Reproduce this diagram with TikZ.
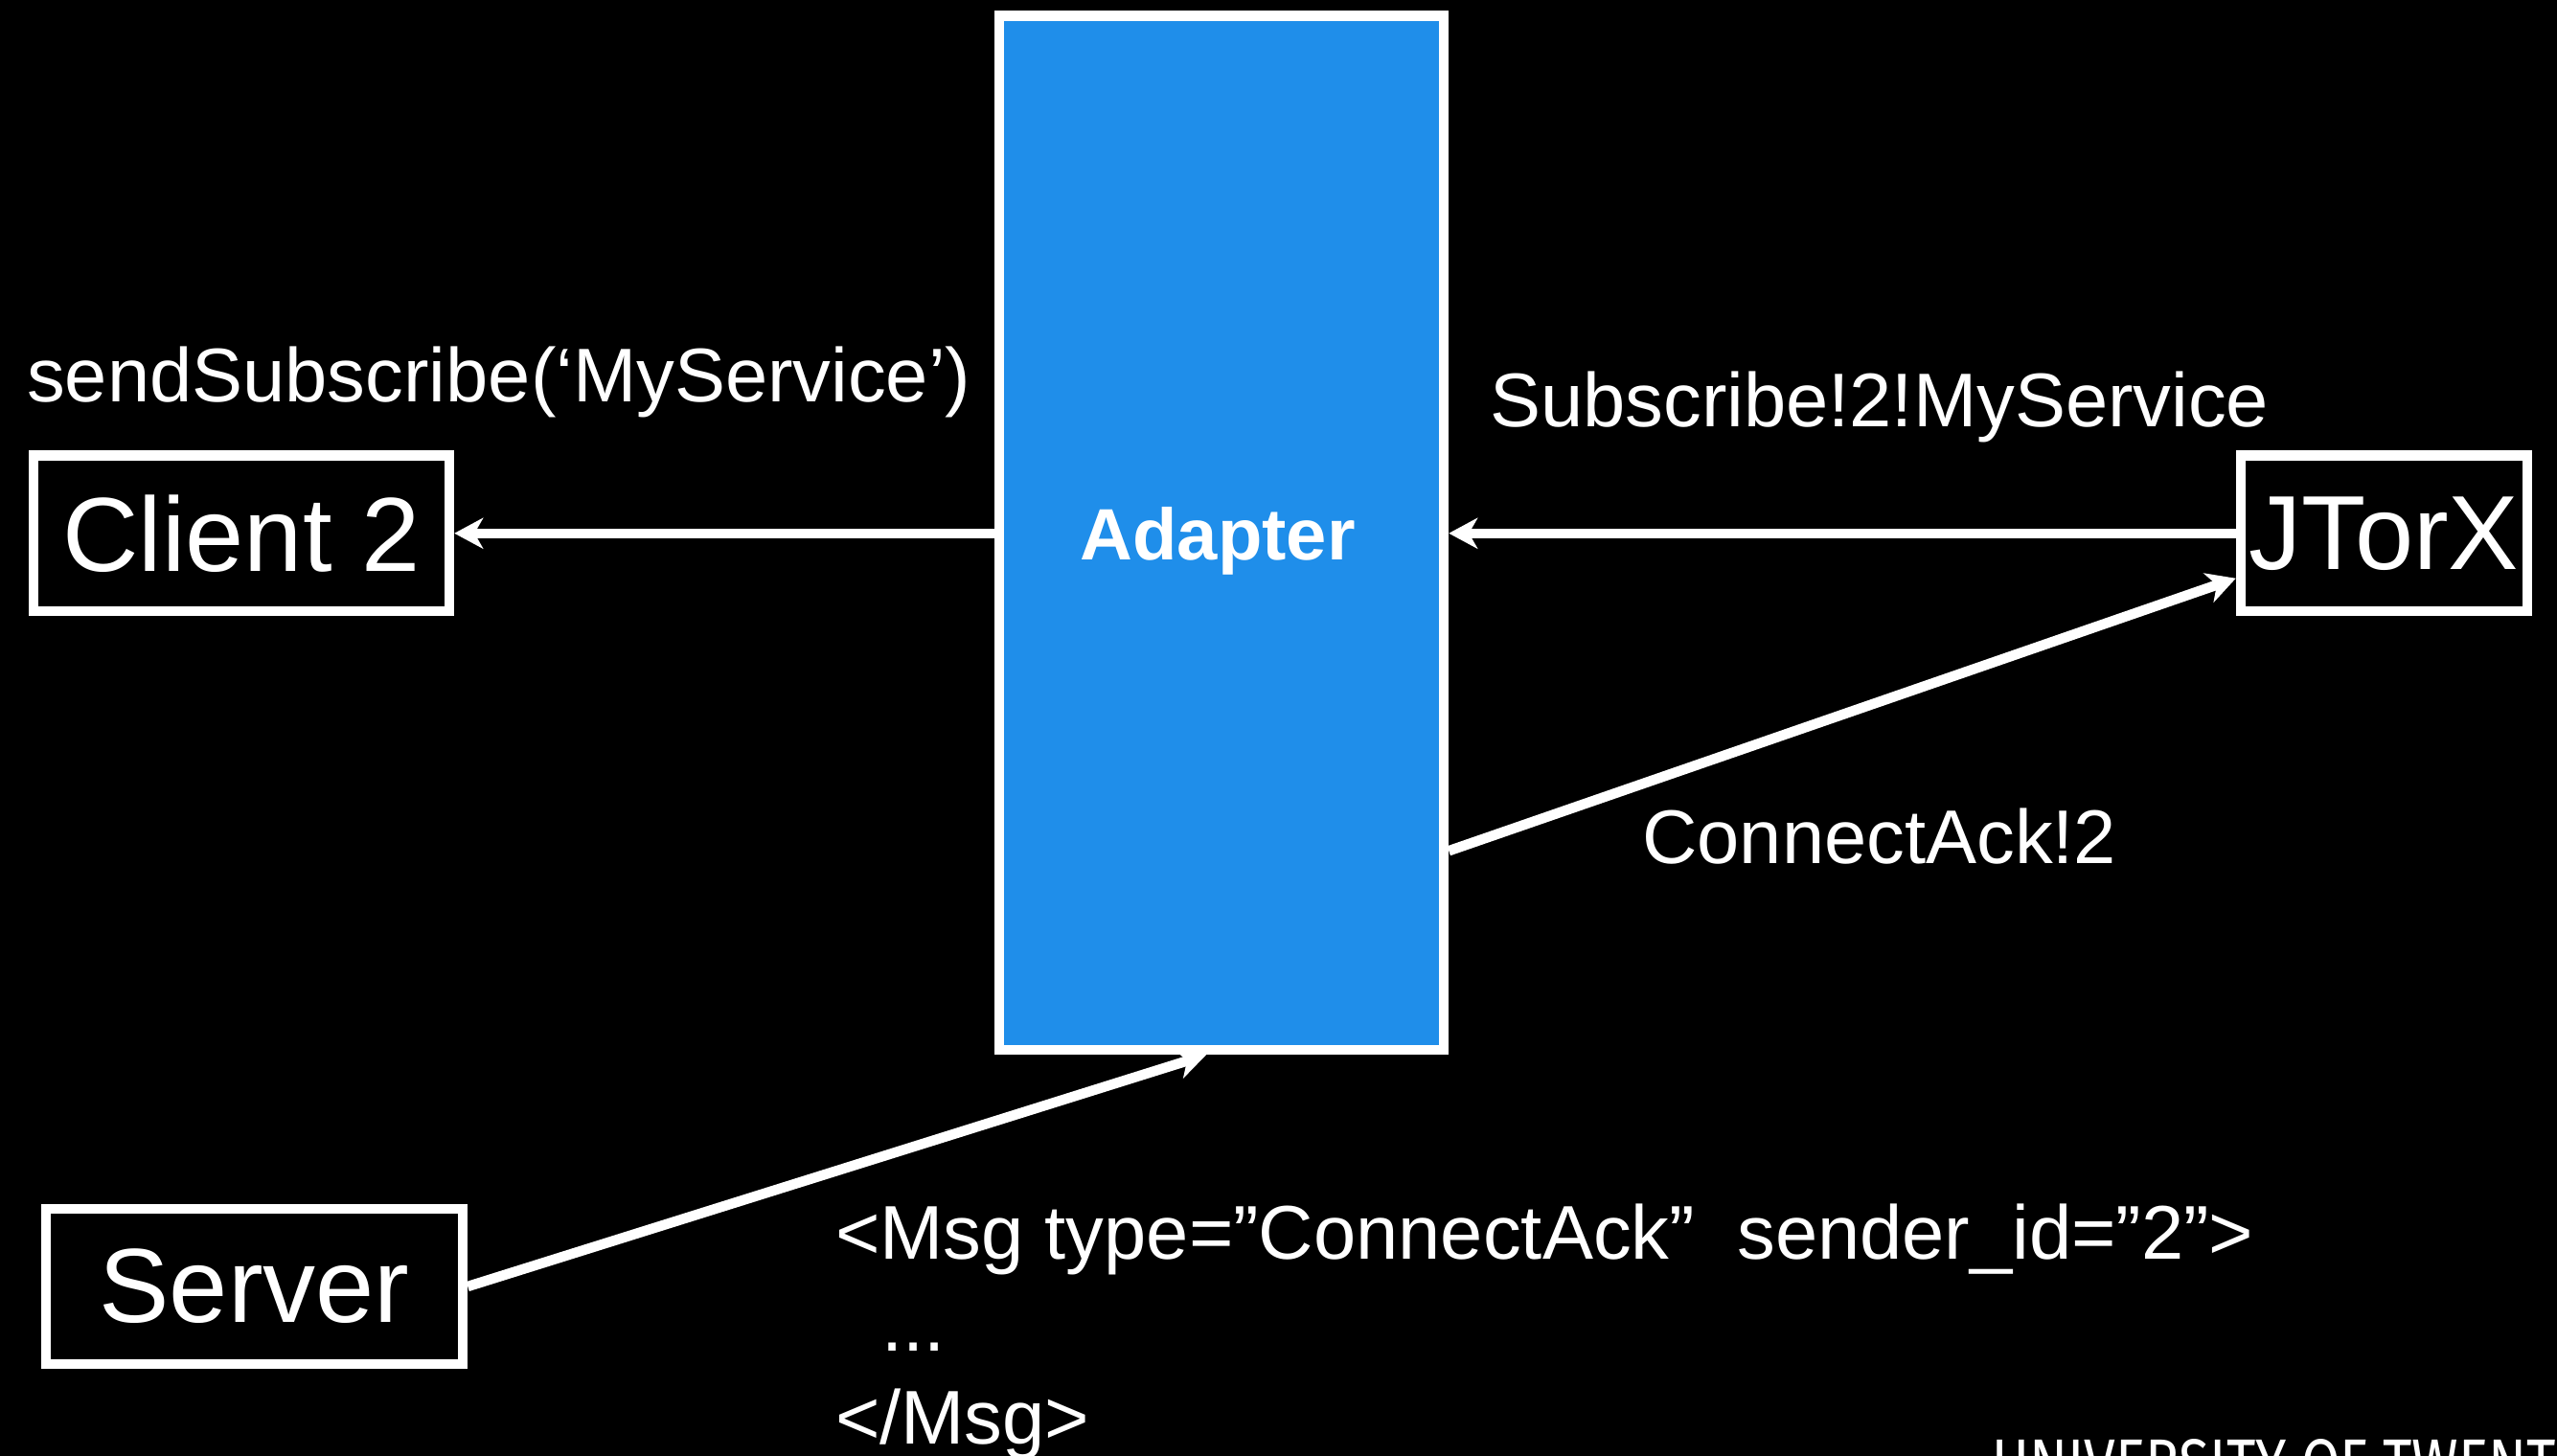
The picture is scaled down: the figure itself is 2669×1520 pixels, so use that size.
\documentclass[tikz,border=0pt]{standalone}
\usepackage{fontspec}
\usepackage{graphicx}
\setmainfont{Liberation Sans}
\newfontfamily\logofont{Fira Sans}
\usetikzlibrary{arrows.meta,backgrounds}
\definecolor{adblue}{HTML}{1F8EEA}
\pgfdeclarelayer{bg0}
\pgfsetlayers{bg0,background,main}
\tikzset{
  box/.style={draw=white, line width=10.5pt, rectangle, inner sep=0pt, text=white,
    font=\fontsize{110}{120}\selectfont},
  lbl/.style={text=white, inner sep=0pt, anchor=base west,
    font=\fontsize{79.5}{95}\selectfont},
  arr/.style={draw=white, line width=10.5pt,
    -{Stealth[length=30pt,width=32pt,inset=9pt]}},
}
\begin{document}
\begin{tikzpicture}[x=1pt,y=-1pt]
\begin{pgfonlayer}{bg0}
\fill[black] (0,0) rectangle (2669,1520);
\end{pgfonlayer}
\useasboundingbox (0,0) rectangle (2669,1520);

% nodes
\node[box, fill=adblue, minimum width=464pt, minimum height=1079.5pt] (adapter) at (1275,556.25) {};
\node[text=white, inner sep=0pt, anchor=base, font=\fontsize{76}{90}\selectfont\bfseries] (adlabel) at (1271,584) {Adapter};
\node[box, minimum width=434pt, minimum height=162.5pt] (client) at (252,556.75) {Client 2};
\node[box, minimum width=299pt, minimum height=162.5pt] (jtorx) at (2488.5,556.75) {JTorX};
\node[box, minimum width=435pt, minimum height=162pt] (server) at (265.5,1343) {Server};

% labels
\node[lbl] (l1) at (28,419) {sendSubscribe(‘MyService’)};
\node[lbl] (l2) at (1555,445) {Subscribe!2!MyService};
\node[lbl] (l3) at (1714,901) {ConnectAck!2};
\node[lbl] (m1) at (872,1314) {<Msg type=”ConnectAck”\ \ sender\_id=”2”>};
\node[lbl] (m2) at (920,1410) {...};
\node[lbl] (m3) at (872,1507) {</Msg>};

% connectors
\begin{scope}[on background layer]
\draw[arr] (adapter.west |- client.east) -- (client.east);
\draw[arr] (jtorx.west) -- (adapter.east |- jtorx.west);
\draw[arr] ([yshift=-332pt]adapter.east) -- ([yshift=-47pt]jtorx.west);
\draw[arr] (server.east) -- ([xshift=-16pt]adapter.south);
\end{scope}

% logo (cut off at page edge)
\begin{scope}
\clip (0,0) rectangle (2669,1520);
\node[anchor=base west, inner sep=0pt, text=white] (logo) at (2079,1552)
  {\resizebox{620pt}{50pt}{\logofont UNIVERSITY OF TWENTE}};
\end{scope}
\end{tikzpicture}
\end{document}
